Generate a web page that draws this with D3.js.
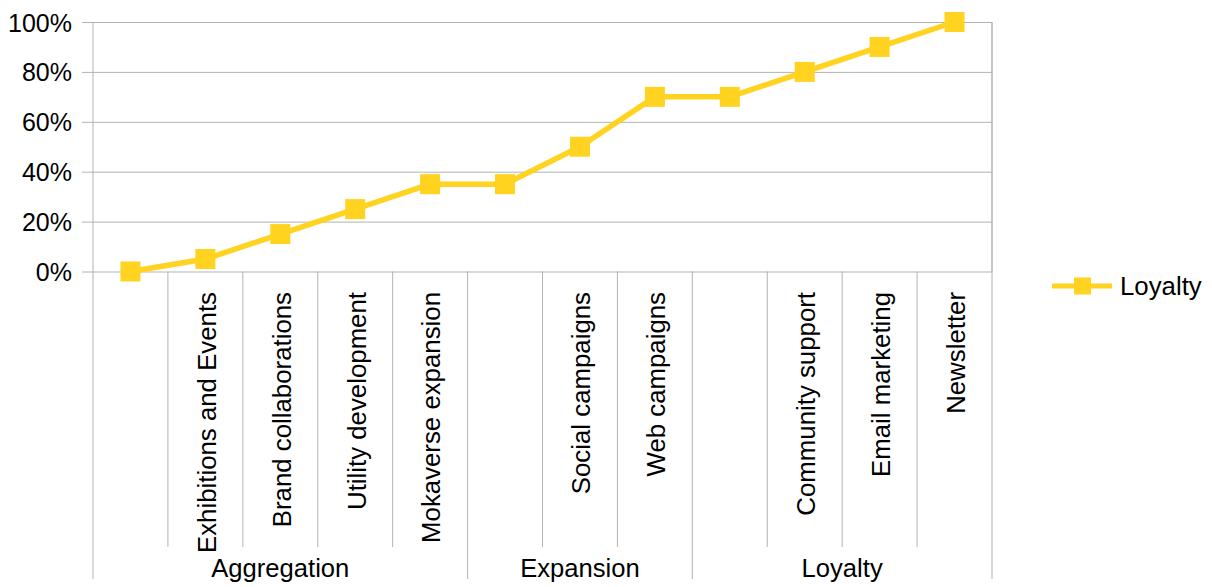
<!DOCTYPE html>
<html><head><meta charset="utf-8">
<script src="https://cdn.jsdelivr.net/npm/d3@7"></script>
<style>body{margin:0;background:#fff}svg{display:block}text{font-family:"Liberation Sans",Arial,sans-serif;fill:#000}</style>
</head><body><svg id="c" width="1212" height="587"></svg>
<script>
const categories = ["", "Exhibitions and Events", "Brand collaborations", "Utility development", "Mokaverse expansion", "", "Social campaigns", "Web campaigns", "", "Community support", "Email marketing", "Newsletter"];
const loyalty = [0, 0.05, 0.15, 0.25, 0.35, 0.35, 0.50, 0.70, 0.70, 0.80, 0.90, 1.00];
const groupNames = ["Aggregation", "Expansion", "Loyalty"];
const groupSizes = [5, 3, 4];
const yTicks = [0, 0.2, 0.4, 0.6, 0.8, 1.0];
const seriesName = "Loyalty";

const svg = d3.select("#c");
const L = 93, R = 992, T = 22, B = 271.5;
const gridColor = "#b3b3b3", lineColor = "#ffd320";
const fs = 25, fsCat = 25.8;

const x = d3.scaleBand().domain(d3.range(categories.length)).range([L, R]).padding(0);
const y = d3.scaleLinear().domain([0, 1]).range([B, T]);
const bw = x.bandwidth();

// gridlines
const grid = svg.append("g").attr("transform", `translate(${L},0)`)
  .call(d3.axisLeft(y).tickValues(yTicks).tickSize(-(R - L)).tickFormat(""));
grid.select(".domain").remove();
grid.selectAll("line").attr("stroke", gridColor).attr("stroke-width", 1);

// y axis with ticks
const yAxis = svg.append("g").attr("transform", `translate(${L},0)`)
  .call(d3.axisLeft(y).tickValues(yTicks).tickSize(11).tickPadding(10).tickFormat(d3.format(".0%")));
yAxis.select(".domain").remove();
yAxis.selectAll("line").attr("stroke", gridColor);
yAxis.selectAll("text").attr("font-size", fs).attr("font-family", "Liberation Sans, Arial, sans-serif").attr("fill", "#000").attr("dy", "0.36em");

// right border
svg.append("line").attr("x1", R).attr("x2", R).attr("y1", T).attr("y2", B).attr("stroke", gridColor);

// category separators
const bounds = d3.range(categories.length + 1);
const groupBounds = new Set(); { let s = 0; groupBounds.add(0); groupSizes.forEach(g => { s += g; groupBounds.add(s); }); }
svg.append("g").selectAll("line").data(bounds).join("line")
  .attr("x1", i => i < categories.length ? x(i) : R).attr("x2", i => i < categories.length ? x(i) : R)
  .attr("y1", i => (i === 0 || i === categories.length) ? T : B)
  .attr("y2", i => groupBounds.has(i) ? 579 : 547)
  .attr("stroke", gridColor).attr("stroke-width", 1);

// category labels
svg.append("g").selectAll("text").data(categories).join("text")
  .attr("transform", (d, i) => `translate(${x(i) + bw / 2},292) rotate(-90)`)
  .attr("text-anchor", "end").attr("dy", "0.4em").attr("font-size", fsCat).text(d => d);

// group labels
let start = 0;
const gData = groupNames.map((n, k) => { const o = { n, s: start, e: start + groupSizes[k] }; start += groupSizes[k]; return o; });
svg.append("g").selectAll("text").data(gData).join("text")
  .attr("x", d => (x(d.s) + (d.e < categories.length ? x(d.e) : R)) / 2)
  .attr("y", 577).attr("text-anchor", "middle").attr("font-size", 25.6).text(d => d.n);

// line
const line = d3.line().x((d, i) => x(i) + bw / 2).y(d => y(d));
svg.append("path").datum(loyalty).attr("d", line).attr("fill", "none")
  .attr("stroke", lineColor).attr("stroke-width", 5.5).attr("stroke-linejoin", "round");
const ms = 20;
svg.append("g").selectAll("rect").data(loyalty).join("rect")
  .attr("x", (d, i) => x(i) + bw / 2 - ms / 2).attr("y", d => y(d) - ms / 2)
  .attr("width", ms).attr("height", ms).attr("fill", lineColor);

// legend
const lg = svg.append("g");
lg.append("line").attr("x1", 1052).attr("x2", 1112).attr("y1", 286).attr("y2", 286).attr("stroke", lineColor).attr("stroke-width", 5);
lg.append("rect").attr("x", 1074).attr("y", 277.5).attr("width", 17).attr("height", 17).attr("fill", lineColor);
lg.append("text").attr("x", 1120).attr("y", 286).attr("dy", "0.36em").attr("font-size", 25.8).text(seriesName);
</script></body></html>
